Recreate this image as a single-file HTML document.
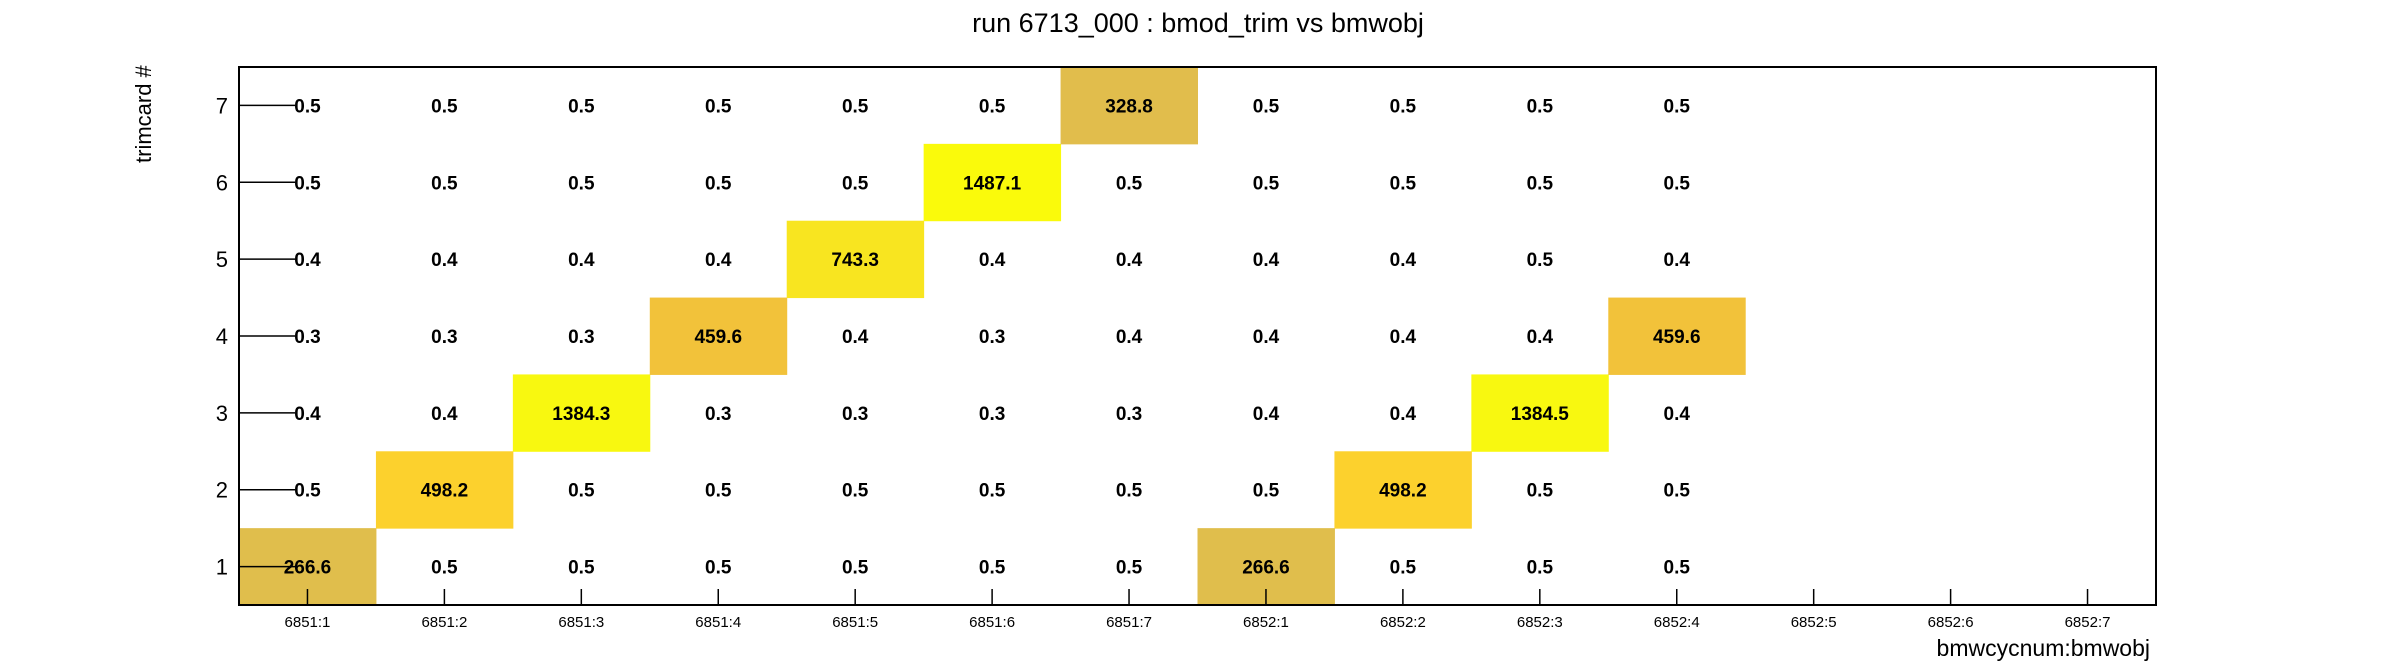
<!DOCTYPE html>
<html><head><meta charset="utf-8"><style>
html,body{margin:0;padding:0;background:#fff;}
svg{display:block;font-family:"Liberation Sans",Arial,sans-serif;}
</style></head><body>
<svg id="chart" width="2396" height="672" viewBox="0 0 2396 672" xmlns="http://www.w3.org/2000/svg">
<text x="1198" y="32" font-size="27" text-anchor="middle" fill="#000">run 6713_000 : bmod_trim vs bmwobj</text>
<text x="2150" y="656" font-size="23" text-anchor="end" fill="#000">bmwcycnum:bmwobj</text>
<text transform="translate(151,163) rotate(-90)" font-size="22" text-anchor="start" fill="#000">trimcard #</text>
<g id="cells"></g>
<g id="labels"></g>
<g id="axes"></g>
<rect x="239" y="67" width="1917" height="538" fill="none" stroke="#000" stroke-width="2"/>
</svg>
<script>
const xCategories = ["6851:1","6851:2","6851:3","6851:4","6851:5","6851:6","6851:7","6852:1","6852:2","6852:3","6852:4","6852:5","6852:6","6852:7"];
const yCategories = ["1","2","3","4","5","6","7"];
const row1 = [266.6,0.5,0.5,0.5,0.5,0.5,0.5,266.6,0.5,0.5,0.5];
const row2 = [0.5,498.2,0.5,0.5,0.5,0.5,0.5,0.5,498.2,0.5,0.5];
const row3 = [0.4,0.4,1384.3,0.3,0.3,0.3,0.3,0.4,0.4,1384.5,0.4];
const row4 = [0.3,0.3,0.3,459.6,0.4,0.3,0.4,0.4,0.4,0.4,459.6];
const row5 = [0.4,0.4,0.4,0.4,743.3,0.4,0.4,0.4,0.4,0.5,0.4];
const row6 = [0.5,0.5,0.5,0.5,0.5,1487.1,0.5,0.5,0.5,0.5,0.5];
const row7 = [0.5,0.5,0.5,0.5,0.5,0.5,328.8,0.5,0.5,0.5,0.5];
const rows = [row1,row2,row3,row4,row5,row6,row7];

const L=239,R=2156,T=67,B=605;
const cw=(R-L)/xCategories.length, ch=(B-T)/yCategories.length;
const xPos=i=>L+i*cw;
const yPos=j=>B-(j+1)*ch;
const NS="http://www.w3.org/2000/svg";
function mk(tag,attrs,parent){const e=document.createElementNS(NS,tag);for(const k in attrs)e.setAttribute(k,attrs[k]);parent.appendChild(e);return e;}
function color(v){
  const stops=[[250,[224,190,76]],[330,[225,189,76]],[460,[242,194,58]],[500,[252,210,44]],[743,[248,229,32]],[1384,[248,248,16]],[1500,[250,250,10]]];
  if(v<=stops[0][0])return "rgb("+stops[0][1]+")";
  for(let i=1;i<stops.length;i++){if(v<=stops[i][0]){const a=stops[i-1],b=stops[i];const t=(v-a[0])/(b[0]-a[0]);return "rgb("+a[1].map((c,k)=>Math.round(c+(b[1][k]-c)*t)).join(",")+")";}}
  return "rgb("+stops[stops.length-1][1]+")";
}
const gc=document.getElementById('cells'),gl=document.getElementById('labels'),ga=document.getElementById('axes');
rows.forEach((r,j)=>r.forEach((v,i)=>{
  if(v>=1){
    const c=mk('rect',{x:xPos(i),y:yPos(j),width:cw+0.5,height:ch+0.5,fill:color(v)},gc);
    
    
  }
  const t=mk('text',{x:xPos(i)+cw/2,y:yPos(j)+ch/2+7,'font-size':19,'font-weight':'bold','text-anchor':'middle',fill:'#000'},gl);
  t.textContent=v.toFixed(1);
  
  
}));
yCategories.forEach((c,j)=>{
  const y=yPos(j)+ch/2;
  const l=mk('line',{x1:L,x2:L+56,y1:y,y2:y,stroke:'#000','stroke-width':1.5},ga);
  
  
  const t=mk('text',{x:228,y:y+8,'font-size':22,'text-anchor':'end',fill:'#000'},ga);
  t.textContent=c;
  
  
});
xCategories.forEach((c,i)=>{
  const x=xPos(i)+cw/2;
  const l=mk('line',{x1:x,x2:x,y1:B,y2:B-16,stroke:'#000','stroke-width':1.5},ga);
  
  
  const t=mk('text',{x:x,y:627,'font-size':15,'text-anchor':'middle',fill:'#000'},ga);
  t.textContent=c;
  
  
});
</script>
</body></html>
